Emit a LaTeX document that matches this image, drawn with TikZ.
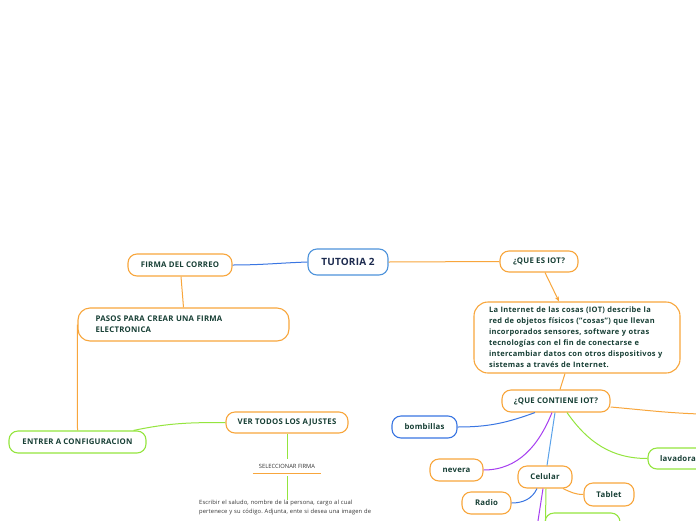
\documentclass[tikz,border=0pt]{standalone}
\usepackage{fontspec}
\setmainfont{Open Sans}
\usetikzlibrary{arrows.meta}
\frenchspacing
\definecolor{txt}{HTML}{173F35}
\definecolor{navy}{HTML}{1D2B4F}
\definecolor{orng}{HTML}{F8A63C}
\definecolor{blu}{HTML}{3A76E2}
\definecolor{lblu}{HTML}{5AA2EA}
\definecolor{tblu}{HTML}{4D93DB}
\definecolor{grn}{HTML}{94E53E}
\definecolor{purp}{HTML}{A63EF0}
\definecolor{gtxt}{HTML}{333333}
\begin{document}
\begin{tikzpicture}[x=1pt,y=-1pt,
  box/.style={draw=orng,line width=1.1pt,rounded corners=9pt,fill=white,inner sep=0pt,
    minimum height=22pt,font=\fontsize{7.8}{9}\selectfont\bfseries\addfontfeatures{LetterSpace=3},text=txt},
  bigbox/.style={box,rounded corners=14pt,align=left},
  conn/.style={line width=1pt},
  oline/.style={conn,draw=orng},
  bline/.style={conn,draw=blu},
  lbline/.style={conn,draw=lblu},
  gline/.style={conn,draw=grn},
  pline/.style={conn,draw=purp},
  small/.style={inner sep=0pt,font=\fontsize{5.8}{9}\selectfont,text=gtxt}
]
\clip (0,0) rectangle (696,520);
\fill[white] (0,0) rectangle (696,520);

% nodes
\node[box,draw=tblu,minimum width=80pt,minimum height=26pt,font=\fontsize{10}{11}\selectfont\bfseries\addfontfeatures{LetterSpace=2},text=navy] (tutoria) at (348,262) {TUTORIA 2};
\node[box,minimum width=104pt] (firma) at (180,265) {FIRMA DEL CORREO};
\node[box,minimum width=78pt,minimum height=21pt] (queiot) at (539,261.5) {¿QUE ES IOT?};
\node[bigbox,minimum width=206pt,minimum height=71pt,text width=176pt,font=\fontsize{7.5}{11}\selectfont\bfseries\addfontfeatures{LetterSpace=4}] (big) at (577,337.5)
  {\mbox{La Internet de las cosas (IOT) describe la}\\\mbox{red de objetos físicos ("cosas") que llevan}\\\mbox{incorporados sensores, software y otras}\\\mbox{tecnologías con el fin de conectarse e}\\\mbox{intercambiar datos con otros dispositivos y}\\\mbox{sistemas a través de Internet.}};
\node[box,minimum width=108pt] (contiene) at (556,401) {¿QUE CONTIENE IOT?};
\node[box,draw=blu,minimum width=65pt] (bombillas) at (424.5,427) {bombillas};
\node[box,minimum width=53pt] (nevera) at (456.5,470) {nevera};
\node[box,minimum width=54pt] (celular) at (545,477) {Celular};
\node[box,draw=grn,minimum width=60pt,minimum height=21pt] (lavadora) at (678,458.5) {lavadora};
\node[box,minimum width=50pt,minimum height=23pt] (tablet) at (609,494.5) {Tablet};
\node[box,minimum width=49pt] (radio) at (486.5,503) {Radio};
\node[box,draw=grn,minimum width=75pt] (greenbox) at (582.5,524) {};
\node[bigbox,rounded corners=12pt,minimum width=211pt,minimum height=33pt,text width=176pt,font=\fontsize{7.8}{11}\selectfont\bfseries\addfontfeatures{LetterSpace=3}] (pasos) at (183.5,324.5)
  {PASOS PARA CREAR UNA FIRMA\\ELECTRONICA};
\node[box,draw=grn,minimum width=137pt] (entrer) at (77.5,442) {ENTRER A CONFIGURACION};
\node[box,minimum width=122pt,minimum height=21pt] (ver) at (287,422.5) {VER TODOS LOS AJUSTES};
\node[small,minimum width=68pt,minimum height=14pt] (selec) at (287,466) {SELECCIONAR FIRMA};
\node[small,anchor=north west,text width=170pt,align=left,font=\fontsize{5.8}{9}\selectfont\addfontfeatures{LetterSpace=2}] (escribir) at (199,500)
  {\mbox{Escribir el saludo, nombre de la persona, cargo al cual}\\\mbox{pertenece y su código. Adjunta, ente si desea una imagen de}};
\coordinate (offright) at (700,414);
\coordinate (offbottom) at (537.5,524);

% connectors
\draw[bline] (firma.east) to[out=0,in=182] (tutoria.west);
\draw[oline] (tutoria.east) -- (queiot.west);
\draw[oline,-{Stealth[length=5pt,width=4pt]}] ([xshift=6pt]queiot.south) -- ([xshift=-18pt]big.north);
\draw[oline] ([xshift=-12pt]big.south) -- ([xshift=4pt]contiene.north);
\draw[bline] ([xshift=-21pt]contiene.south) to[out=200,in=0] (bombillas.east);
\draw[pline] ([xshift=-4pt]contiene.south) to[out=-112,in=0] (nevera.east);
\draw[lbline] ([xshift=-1pt]contiene.south) -- ([xshift=2pt]celular.north);
\draw[gline] ([xshift=11pt]contiene.south) to[out=-55,in=180] (lavadora.west);
\draw[oline] ([yshift=-6pt]contiene.east) to[out=-5,in=178] (offright);
\draw[oline] ([xshift=18pt]celular.south) to[out=-25,in=180] (tablet.west);
\draw[bline] ([xshift=-8pt]celular.south) to[out=-115,in=0] (radio.east);
\draw[pline] ([xshift=-2pt]celular.south) -- (offbottom);
\draw[gline] ([xshift=1pt]celular.south) -- ([xshift=1pt]greenbox.west);
\draw[oline] ([xshift=1pt]firma.south) -- (pasos.north);
\draw[oline] (pasos.west) -- (entrer.north);
\draw[gline] ([xshift=-13pt]entrer.north east) to[out=12,in=180] (ver.west);
\draw[gline] (ver.south) -- (selec.north);
\draw[orng,line width=1.2pt] (selec.south west) -- (selec.south east);
\draw[gline] ([yshift=-3pt]selec.south) -- (selec.south |- escribir.north);
\end{tikzpicture}
\end{document}
